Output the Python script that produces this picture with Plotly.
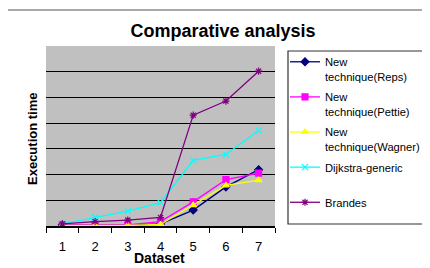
import plotly.graph_objects as go

datasets = ["1", "2", "3", "4", "5", "6", "7"]
reps = [0.04, 0.03, 0.03, 0.08, 0.62, 1.52, 2.19]
pettie = [0.04, 0.04, 0.04, 0.17, 0.94, 1.80, 2.06]
wagner = [0.02, 0.02, 0.02, 0.06, 0.81, 1.58, 1.78]
dijkstra = [0.08, 0.33, 0.58, 0.91, 2.55, 2.78, 3.71]
brandes = [0.08, 0.17, 0.23, 0.33, 4.31, 4.86, 6.02]

series = [
    ("New<br>technique(Reps)", reps, "#000080", "diamond"),
    ("New<br>technique(Pettie)", pettie, "#ff00ff", "square"),
    ("New<br>technique(Wagner)", wagner, "#ffff00", "triangle-up"),
    ("Dijkstra-generic<br> ", dijkstra, "#00ffff", "x-thin-open"),
    ("Brandes", brandes, "#800080", "asterisk-open"),
]

W, H = 470, 268
OFF = 8  # page body margin
# plot area in screen pixels
SL, SR, ST, SB = 46, 275, 46, 226
L, R, T, B = SL - OFF, SR - OFF, ST - OFF, SB - OFF

fig = go.Figure()
for i, (name, vals, col, sym) in enumerate(series):
    fig.add_trace(go.Scatter(
        x=datasets, y=vals, name=name, mode="lines+markers",
        legendgroup=f"g{i}",
        line=dict(color=col, width=1.3),
        marker=dict(symbol=sym, size=6, color=col, line=dict(color=col, width=1.2)),
    ))

def px(sx):
    return (sx - SL) / (SR - SL)

def py(sy):
    return (SB - sy) / (SB - ST)

fig.update_layout(
    width=W, height=H,
    margin=dict(l=L, r=W - R, t=T, b=H - B, autoexpand=False),
    paper_bgcolor="white",
    plot_bgcolor="#c0c0c0",
    font=dict(family="Liberation Sans, Arial, sans-serif", color="black"),
    showlegend=True,
    legend=dict(
        x=px(285), y=py(48), xanchor="left", yanchor="top",
        font=dict(size=11.2, family="Liberation Sans, Arial, sans-serif"),
        valign="top", bgcolor="rgba(0,0,0,0)", borderwidth=0,
        tracegroupgap=3, itemwidth=30,
    ),
    title=dict(
        text="<b>Comparative analysis</b>", x=(223 - OFF) / W, xanchor="center",
        y=1 - (31 - OFF) / H, yanchor="middle", font=dict(size=18),
    ),
    xaxis=dict(
        type="category", range=[-0.5, 6.5], showgrid=False,
        showline=True, linecolor="black", linewidth=1.5,
        ticks="outside", tickson="boundaries", ticklen=5, tickcolor="black",
        tickfont=dict(size=13), ticklabelstandoff=8,
        fixedrange=True, automargin=False,
    ),
    yaxis=dict(
        range=[0, 7], dtick=1, showgrid=True, gridcolor="black", gridwidth=1.3,
        showticklabels=False, zeroline=False, showline=False, ticks="",
        fixedrange=True, automargin=False,
    ),
    shapes=[
        dict(type="rect", xref="paper", yref="paper",
             x0=px(7), x1=px(470), y0=py(300), y1=py(10),
             line=dict(color="#555555", width=1.2), fillcolor="rgba(0,0,0,0)",
             layer="below"),
        dict(type="rect", xref="paper", yref="paper",
             x0=px(288), x1=px(470), y0=py(224), y1=py(51),
             line=dict(color="#333333", width=1.2), fillcolor="rgba(0,0,0,0)"),
    ],
    annotations=[
        dict(text="<b>Dataset</b>", xref="paper", yref="paper",
             x=px(159), y=py(258), showarrow=False, font=dict(size=14),
             xanchor="center", yanchor="middle"),
        dict(text="<b>Execution time</b>", xref="paper", yref="paper",
             x=px(32), y=py(139), showarrow=False, font=dict(size=13),
             textangle=-90, xanchor="center", yanchor="middle"),
    ],
)

fig.write_html("out.html")
